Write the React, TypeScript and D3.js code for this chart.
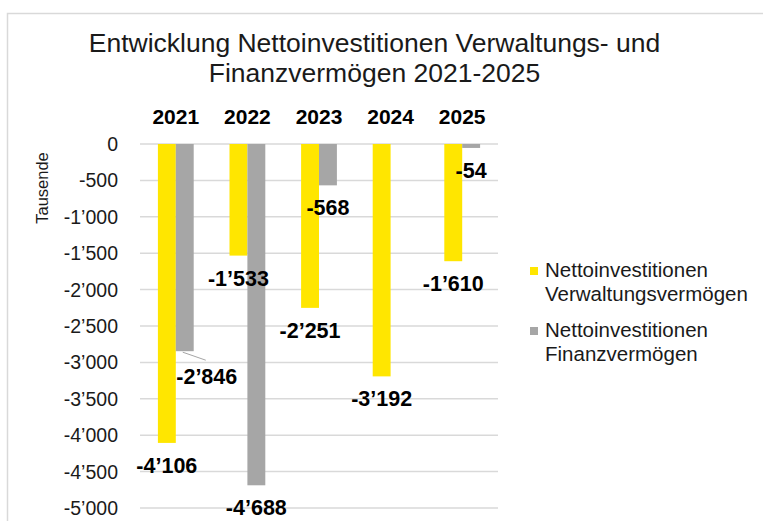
import { useMemo } from 'react';
import * as d3 from 'd3';

const years = ['2021', '2022', '2023', '2024', '2025'];
const verwaltung = [-4106, -1533, -2251, -3192, -1610];
const finanz = [-2846, -4688, -568, 0, -54];
const yTicks = [0, -500, -1000, -1500, -2000, -2500, -3000, -3500, -4000, -4500, -5000];
const seriesNames = ['Nettoinvestitionen Verwaltungsvermögen', 'Nettoinvestitionen Finanzvermögen'];
const seriesColors = ['#FFE600', '#A6A6A6'];

const W = 763;
const H = 521;
const FONT = '"Liberation Sans", Arial, sans-serif';

const locale = d3.formatLocale({ decimal: '.', thousands: '’', grouping: [3], currency: ['', ''], minus: '-' });
const fmt = locale.format(',d');

export default function App() {
  const x = useMemo(() => d3.scaleBand().domain(years).range([140, 498]).paddingInner(0.5).paddingOuter(0.25), []);
  const xs = useMemo(() => d3.scaleBand().domain(['0', '1']).range([0, x.bandwidth()]).padding(0), [x]);
  const y = useMemo(() => d3.scaleLinear().domain([0, -5000]).range([144, 508]), []);

  const series = [verwaltung, finanz];

  return (
    <svg width={W} height={H} style={{ position: 'absolute', left: 0, top: 0 }} fontFamily={FONT}>
      <rect x={0} y={0} width={W} height={H} fill="#fff" />
      <rect x={7.5} y={13.5} width={900} height={700} fill="none" stroke="#d9d9d9" strokeWidth={1.5} />

      <text x={374.5} y={52} textAnchor="middle" fontSize={26.5} fill="#1a1a1a">
        Entwicklung Nettoinvestitionen Verwaltungs- und
      </text>
      <text x={374.5} y={82} textAnchor="middle" fontSize={26.5} fill="#1a1a1a">
        Finanzvermögen 2021-2025
      </text>

      {/* gridlines + tick labels */}
      {yTicks.map(t => (
        <g key={t}>
          <line x1={140} x2={498} y1={y(t)} y2={y(t)} stroke="#d9d9d9" strokeWidth={1.5} />
          <text x={118} y={y(t) + 7} textAnchor="end" fontSize={19.5} fill="#1a1a1a">{fmt(t)}</text>
        </g>
      ))}

      <text transform="translate(48,188) rotate(-90)" textAnchor="middle" fontSize={16.5} fill="#1a1a1a">Tausende</text>

      {/* year labels on top */}
      {years.map(yr => (
        <text key={yr} x={x(yr)! + x.bandwidth() / 2} y={124} textAnchor="middle" fontSize={21} fontWeight="bold" fill="#000">{yr}</text>
      ))}

      {/* bars */}
      {series.map((vals, si) => vals.map((v, i) => (
        <rect key={`${si}-${i}`} x={x(years[i])! + xs(String(si))!} y={y(0)} width={xs.bandwidth()} height={y(v) - y(0)} fill={seriesColors[si]} />
      )))}

      {/* data labels */}
      {series.map((vals, si) => vals.map((v, i) => {
        if (v === 0) return null;
        const cx = x(years[i])! + xs(String(si))! + xs.bandwidth() / 2;
        const shifted = si === 1 && i === 0;
        const lx = shifted ? cx + 22 : cx;
        const ly = y(v) + 30 + (shifted ? 3 : 0);
        return (
          <g key={`l-${si}-${i}`}>
            {shifted && (
              <line x1={cx - 2} y1={y(v) + 1} x2={lx - 1} y2={y(v) + 9} stroke="#a6a6a6" strokeWidth={1} />
            )}
            <text x={lx} y={ly} textAnchor="middle" fontSize={21.5} fontWeight="bold" fill="#000">{fmt(v)}</text>
          </g>
        );
      }))}

      {/* legend */}
      {seriesNames.map((name, i) => {
        const top = i === 0 ? 277 : 337;
        const words = name.split(' ');
        return (
          <g key={name}>
            <rect x={530} y={top - 10} width={8} height={8} fill={seriesColors[i]} />
            <text x={545} y={top} fontSize={20.5} fill="#1a1a1a">{words[0]}</text>
            <text x={545} y={top + 24} fontSize={20.5} fill="#1a1a1a">{words[1]}</text>
          </g>
        );
      })}
    </svg>
  );
}
